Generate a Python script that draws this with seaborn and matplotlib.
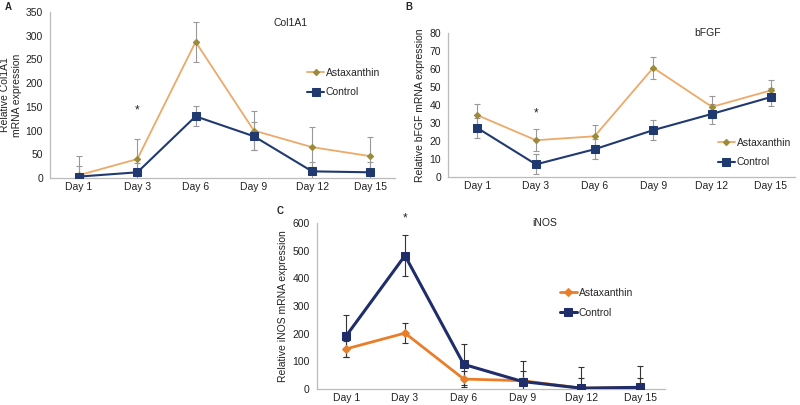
import matplotlib
matplotlib.use("Agg")
import matplotlib.pyplot as plt
import seaborn as sns
import pandas as pd
import numpy as np

days = ["Day 1", "Day 3", "Day 6", "Day 9", "Day 12", "Day 15"]

col_astax = [6, 40, 287, 100, 65, 46]
col_astax_err = [41, 42, 42, 42, 42, 40]
col_ctrl = [3, 12, 130, 88, 14, 12]
col_ctrl_err = [22, 20, 21, 30, 20, 21]

fgf_astax = [34.3, 20.4, 22.6, 60.6, 38.9, 48.0]
fgf_astax_err = [6, 6, 6, 6, 6, 6]
fgf_ctrl = [27.2, 7.0, 15.4, 26.0, 35.0, 44.3]
fgf_ctrl_err = [5.5, 5.5, 5.5, 5.5, 5.5, 5.0]

inos_astax = [145, 202, 36, 30, 3, 5]
inos_astax_err = [30, 35, 30, 35, 35, 35]
inos_ctrl = [192, 482, 89, 27, 3, 6]
inos_ctrl_err = [76, 75, 75, 75, 77, 78]

sns.set_style("white")
plt.rcParams['font.family'] = ['Liberation Sans', 'DejaVu Sans']

FS = 7.5
fig = plt.figure(figsize=(8, 4.05), dpi=100)

def panel(rect, astax, aerr, ctrl, cerr, ymax, ystep, ylabel, title, title_xy,
          leg_xy, star_y, c_ast, c_ast_mk, c_ctrl, lw_ast, lw_ctrl, ms_ast, ms_ctrl,
          ecol, ast_marker):
    ax = fig.add_axes(rect)
    x = np.arange(len(days))
    df = pd.DataFrame({
        "x": np.concatenate([x, x]),
        "val": astax + ctrl,
        "group": ["Astaxanthin"] * len(days) + ["Control"] * len(days),
    })
    ax.errorbar(x, astax, yerr=aerr, fmt="none", ecolor=ecol, elinewidth=0.8,
                capsize=2, capthick=0.8, zorder=1)
    ax.errorbar(x, ctrl, yerr=cerr, fmt="none", ecolor=ecol, elinewidth=0.8,
                capsize=2, capthick=0.8, zorder=1)
    sns.lineplot(data=df[df.group == "Astaxanthin"], x="x", y="val", ax=ax,
                 color=c_ast, lw=lw_ast, marker=ast_marker, markersize=ms_ast,
                 markerfacecolor=c_ast_mk, markeredgecolor=c_ast_mk,
                 label="Astaxanthin", zorder=3)
    sns.lineplot(data=df[df.group == "Control"], x="x", y="val", ax=ax,
                 color=c_ctrl, lw=lw_ctrl, marker="s", markersize=ms_ctrl,
                 markerfacecolor=c_ctrl, markeredgecolor=c_ctrl,
                 label="Control", zorder=4)
    ax.set_xlim(-0.5, 5.42)
    ax.set_ylim(0, ymax)
    ax.set_yticks(np.arange(0, ymax + 1, ystep))
    ax.set_xticks(x)
    ax.set_xticklabels(days)
    ax.set_xticks(np.arange(0.5, 5.5, 1), minor=True)
    ax.tick_params(axis="x", which="major", length=0, labelsize=FS, pad=3,
                   colors="#222222")
    ax.tick_params(axis="x", which="minor", length=3, color="#bbbbbb", width=0.8)
    ax.tick_params(axis="y", length=3, labelsize=FS, colors="#222222",
                   width=0.8, pad=2)
    ax.tick_params(axis="y", color="#bbbbbb")
    for s in ["top", "right"]:
        ax.spines[s].set_visible(False)
    for s in ["left", "bottom"]:
        ax.spines[s].set_color("#bbbbbb")
        ax.spines[s].set_linewidth(0.9)
    ax.set_xlabel("")
    ax.set_ylabel(ylabel, fontsize=FS, color="#222222", labelpad=3)
    ax.text(title_xy[0], title_xy[1], title, transform=fig.transFigure,
            fontsize=FS, ha="center", va="center", color="#222222")
    ax.text(1, star_y, "*", ha="center", va="center", fontsize=8.5,
            clip_on=False, color="#222222")
    ax.legend(loc="center left", bbox_to_anchor=leg_xy,
              bbox_transform=fig.transFigure, frameon=False,
              fontsize=FS, handlelength=1.6, handletextpad=0.2,
              labelspacing=0.95, borderpad=0, borderaxespad=0)
    return ax

# Panel A
panel([0.0625, 0.5605, 0.431, 0.41], col_astax, col_astax_err, col_ctrl, col_ctrl_err,
      350, 50, "Relative Col1A1\nmRNA expression", "Col1A1", (0.363, 1 - 23 / 405),
      (0.384, 1 - 82.5 / 405), 143, "#EDA968", "#9A8A3A", "#203A70", 1.3, 1.5, 3.2, 5.2,
      "#999999", "D")
# Panel B
panel([0.56, 0.563, 0.434, 0.356], fgf_astax, fgf_astax_err, fgf_ctrl, fgf_ctrl_err,
      80, 10, "Relative bFGF mRNA expression", "bFGF", (0.884, 1 - 33 / 405),
      (0.8975, 1 - 152.5 / 405), 35, "#EDA968", "#9A8A3A", "#203A70", 1.3, 1.5, 3.2, 5.2,
      "#999999", "D")
# Panel C
panel([0.396, 0.0395, 0.435, 0.41], inos_astax, inos_astax_err, inos_ctrl, inos_ctrl_err,
      600, 100, "Relative iNOS mRNA expression", "iNOS", (0.681, 1 - 223 / 405),
      (0.70, 1 - 303 / 405), 615, "#E97E2A", "#E97E2A", "#1F2E6A", 2.0, 2.2, 4.2, 5.8,
      "#333333", "D")

fig.text(5 / 800, 1 - 7 / 405, "A", fontsize=7, fontweight="bold", va="center")
fig.text(405 / 800, 1 - 7 / 405, "B", fontsize=7, fontweight="bold", va="center")
fig.text(277 / 800, 1 - 211 / 405, "C", fontsize=7, fontweight="bold", va="center")

fig.savefig("out.png", dpi=100)
